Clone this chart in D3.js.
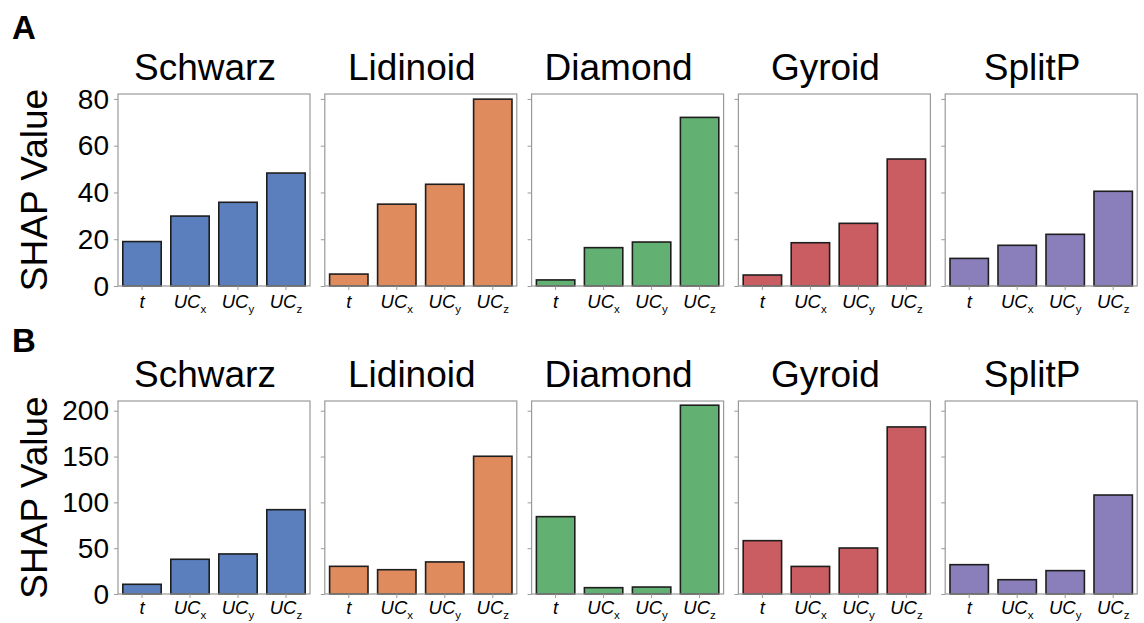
<!DOCTYPE html>
<html>
<head>
<meta charset="utf-8">
<script src="https://cdn.jsdelivr.net/npm/d3@7"></script>
<style>
  body { margin: 0; background: #fff; }
  text { font-family: "Liberation Sans", Arial, Helvetica, sans-serif; fill: #000; }
</style>
</head>
<body>
<svg id="chart" width="1144" height="623"></svg>
<script>
// Lattice structures (one panel each) and their input features
const structures = ["Schwarz", "Lidinoid", "Diamond", "Gyroid", "SplitP"];
const featureBase = ["t", "UC", "UC", "UC"];
const featureSub  = ["", "x", "y", "z"];
const structureColors = ["#5b7fbd", "#df8b5e", "#62b072", "#ca5d62", "#8a7fba"];

// Row A: mean |SHAP| per feature
const shapA_Schwarz  = [19.0, 29.9, 35.8, 48.3];
const shapA_Lidinoid = [5.1, 35.0, 43.5, 79.9];
const shapA_Diamond  = [2.6, 16.4, 18.8, 72.1];
const shapA_Gyroid   = [4.7, 18.5, 26.8, 54.3];
const shapA_SplitP   = [11.8, 17.4, 22.1, 40.5];

// Row B: mean |SHAP| per feature
const shapB_Schwarz  = [10.6, 37.9, 43.7, 92.0];
const shapB_Lidinoid = [30.2, 26.5, 35.0, 150.3];
const shapB_Diamond  = [84.4, 6.9, 7.6, 206.0];
const shapB_Gyroid   = [58.2, 30.1, 50.2, 182.3];
const shapB_SplitP   = [32.0, 15.6, 25.5, 108.0];

const ticksA = [0, 20, 40, 60, 80];
const ticksB = [0, 50, 100, 150, 200];
const yMaxA = 82.1;   // shared y-limit, row A
const yMaxB = 210.6;  // shared y-limit, row B

const rows = [
  { letter: "A", values: [shapA_Schwarz, shapA_Lidinoid, shapA_Diamond, shapA_Gyroid, shapA_SplitP],
    ticks: ticksA, ymax: yMaxA, top: 94, bottom: 286, letterY: 38.5, titleY: 79.5, labelGap: 22 },
  { letter: "B", values: [shapB_Schwarz, shapB_Lidinoid, shapB_Diamond, shapB_Gyroid, shapB_SplitP],
    ticks: ticksB, ymax: yMaxB, top: 401, bottom: 594, letterY: 351.5, titleY: 386.5, labelGap: 19.5 }
];

const svg = d3.select("#chart");
const panelLeft0 = 118, panelStep = 206.8, panelW = 192;
const frameColor = "#9a9a9a";

rows.forEach(row => {
  const y = d3.scaleLinear().domain([0, row.ymax]).range([row.bottom, row.top]);

  // Row letter
  svg.append("text")
    .attr("x", 12).attr("y", row.letterY)
    .attr("font-size", 33).attr("font-weight", "bold")
    .text(row.letter);

  // Shared y-axis title
  svg.append("text")
    .attr("transform", `translate(46.5,${(row.top + row.bottom) / 2}) rotate(-90)`)
    .attr("text-anchor", "middle")
    .attr("font-size", 37)
    .text("SHAP Value");

  structures.forEach((name, i) => {
    const left = panelLeft0 + i * panelStep;
    const x = d3.scaleBand().domain(d3.range(featureBase.length))
      .range([left, left + panelW]).paddingInner(0.2).paddingOuter(0.1);
    const g = svg.append("g");

    // Title
    g.append("text")
      .attr("x", left + panelW / 2 - 9).attr("y", row.titleY)
      .attr("text-anchor", "middle").attr("font-size", 37)
      .text(name);

    // Bars
    g.selectAll("rect.bar").data(row.values[i]).join("rect")
      .attr("class", "bar")
      .attr("x", (d, k) => x(k))
      .attr("width", x.bandwidth())
      .attr("y", d => y(d))
      .attr("height", d => y(0) - y(d))
      .attr("fill", structureColors[i])
      .attr("stroke", "#1e1e1e")
      .attr("stroke-width", 1.6);

    // Y axis (labels only on the first panel of each row)
    const yAxis = g.append("g")
      .attr("transform", `translate(${left},0)`)
      .call(d3.axisLeft(y).tickValues(row.ticks).tickSize(4).tickPadding(5)
        .tickFormat(i === 0 ? d3.format("d") : () => ""));
    yAxis.select(".domain").remove();
    yAxis.selectAll(".tick line").attr("stroke", frameColor).attr("stroke-width", 1);
    yAxis.selectAll(".tick text")
      .attr("font-size", 28).attr("dy", "0.33em")
      .style("font-family", "'Liberation Sans', Arial, sans-serif").attr("fill", "#000");

    // X axis ticks
    const xAxis = g.append("g")
      .attr("transform", `translate(0,${row.bottom})`)
      .call(d3.axisBottom(x).tickSize(4).tickFormat(() => ""));
    xAxis.select(".domain").remove();
    xAxis.selectAll(".tick line").attr("stroke", frameColor).attr("stroke-width", 1);

    // X tick labels with subscripts
    featureBase.forEach((base, k) => {
      const t = g.append("text")
        .attr("x", x(k) + x.bandwidth() / 2)
        .attr("y", row.bottom + row.labelGap)
        .attr("text-anchor", "middle")
        .attr("font-style", "italic")
        .attr("font-size", 18.5);
      t.append("tspan").text(base);
      if (featureSub[k]) {
        t.append("tspan").attr("font-size", 11.5).attr("font-style", "normal")
          .attr("dy", 5).text(featureSub[k]);
      }
    });

    // Axes frame
    g.append("rect")
      .attr("x", left).attr("y", row.top)
      .attr("width", panelW).attr("height", row.bottom - row.top)
      .attr("fill", "none").attr("stroke", frameColor).attr("stroke-width", 1.2);
  });
});
</script>
</body>
</html>
